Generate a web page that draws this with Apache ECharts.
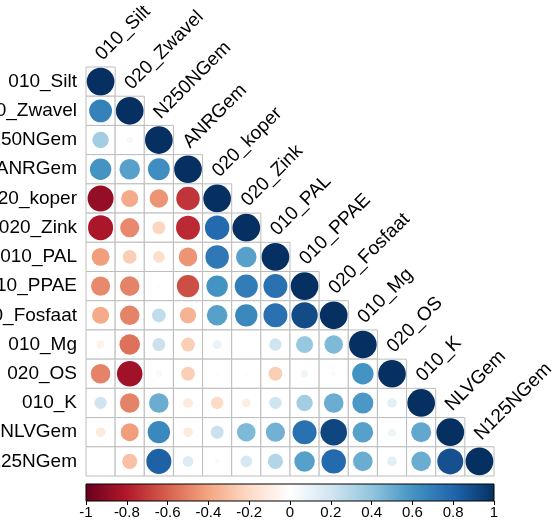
<!DOCTYPE html>
<html>
<head>
<meta charset="utf-8">
<script src="https://cdn.jsdelivr.net/npm/echarts@6/dist/echarts.min.js"></script>
<style>
  html, body { margin: 0; padding: 0; background: #fff; }
  #corrChart { width: 555px; height: 526px; }
</style>
</head>
<body>
<div id="corrChart"></div>
<script>
// variable names, same order for rows and columns
const varNames = ['010_Silt', '020_Zwavel', 'N250NGem', 'ANRGem', '020_koper', '020_Zink', '010_PAL',
  '010_PPAE', '020_Fosfaat', '010_Mg', '020_OS', '010_K', 'NLVGem', 'N125NGem']

// lower triangle of the correlation matrix
const rowSilt = [1]
const rowZwavel = [0.68, 1]
const rowN250 = [0.35, 0.05, 1]
const rowANR = [0.6, 0.55, 0.62, 1]
const rowKoper = [-0.88, -0.38, -0.45, -0.72, 1]
const rowZink = [-0.82, -0.48, -0.22, -0.75, 0.78, 1]
const rowPAL = [-0.42, -0.25, -0.18, -0.45, 0.72, 0.55, 1]
const rowPPAE = [-0.48, -0.5, 0.02, -0.65, 0.6, 0.7, 0.75, 1]
const rowFosfaat = [-0.38, -0.5, 0.25, -0.35, 0.55, 0.65, 0.75, 0.9, 1]
const rowMg = [-0.08, -0.55, 0.22, -0.25, 0.1, 0, 0.2, 0.38, 0.45, 1]
const rowOS = [-0.5, -0.85, 0.05, -0.25, 0.02, 0.02, -0.25, 0.07, 0.03, 0.6, 1]
const rowK = [0.2, -0.5, 0.5, -0.12, -0.2, -0.1, 0.2, 0.35, 0.5, 0.58, 0.12, 1]
const rowNLV = [-0.12, -0.42, 0.65, -0.12, 0.22, 0.45, 0.48, 0.75, 0.92, 0.55, 0.08, 0.52, 1]
const rowN125 = [0.02, -0.3, 0.82, 0.15, 0.03, 0.18, 0.3, 0.55, 0.78, 0.5, 0.12, 0.5, 0.88, 1]

const corrRows = [rowSilt, rowZwavel, rowN250, rowANR, rowKoper, rowZink, rowPAL, rowPPAE,
  rowFosfaat, rowMg, rowOS, rowK, rowNLV, rowN125]

// colour bar ticks
const barTicks = [-1, -0.8, -0.6, -0.4, -0.2, 0, 0.2, 0.4, 0.6, 0.8, 1]

// RdBu palette like corrplot
const rdbu = ['#67001F', '#B2182B', '#D6604D', '#F4A582', '#FDDBC7', '#FFFFFF',
  '#D1E5F0', '#92C5DE', '#4393C3', '#2166AC', '#053061']

const cellData = []
corrRows.forEach((row, i) => {
  row.forEach((v, j) => {
    cellData.push([j, i, v])
  })
})
const diagData = varNames.map((n, i) => [i, i])

const fontFam = 'Liberation Sans, Arial, sans-serif'
const chart = echarts.init(document.getElementById('corrChart'))

chart.setOption({
  animation: false,
  backgroundColor: '#fff',
  grid: [
    { left: 86, top: 67, width: 408, height: 409, containLabel: false, outerBoundsMode: 'none' },
    { left: 86, top: 484, width: 408, height: 17, containLabel: false, outerBoundsMode: 'none' }
  ],
  xAxis: [{
    gridIndex: 0,
    type: 'category',
    data: varNames,
    show: false
  }, {
    gridIndex: 1,
    type: 'value',
    min: -1,
    max: 1,
    interval: 0.2,
    axisLine: { show: false },
    axisTick: { show: true, length: 4, lineStyle: { color: '#000' } },
    splitLine: { show: false },
    axisLabel: {
      color: '#000',
      fontSize: 15,
      fontFamily: fontFam,
      margin: 4,
      formatter: v => {
        const t = barTicks.find(b => Math.abs(b - v) < 1e-6)
        return t === undefined ? '' : String(t)
      }
    }
  }],
  yAxis: [{
    gridIndex: 0,
    type: 'category',
    data: varNames,
    inverse: true,
    axisLine: { show: false },
    axisTick: { show: false },
    axisLabel: {
      color: '#000',
      fontSize: 19,
      fontFamily: fontFam,
      margin: 9
    }
  }, {
    gridIndex: 1,
    type: 'value',
    min: 0,
    max: 1,
    show: false
  }],
  visualMap: {
    show: false,
    type: 'continuous',
    seriesIndex: 0,
    dimension: 2,
    min: -1,
    max: 1,
    inRange: { color: rdbu }
  },
  series: [{
    // cells with circles
    type: 'custom',
    xAxisIndex: 0,
    yAxisIndex: 0,
    data: cellData,
    renderItem: (params, api) => {
      const p = api.coord([api.value(0), api.value(1)])
      const s = api.size([1, 1])
      const r = Math.sqrt(Math.abs(api.value(2))) * s[0] * 0.475
      return {
        type: 'group',
        children: [{
          type: 'rect',
          shape: { x: p[0] - s[0] / 2, y: p[1] - s[1] / 2, width: s[0], height: s[1] },
          style: { fill: '#fff', stroke: '#bdbdbd', lineWidth: 1 }
        }, {
          type: 'circle',
          shape: { cx: p[0], cy: p[1], r: r },
          style: { fill: api.visual('color') }
        }]
      }
    }
  }, {
    // rotated column labels on the diagonal
    type: 'custom',
    xAxisIndex: 0,
    yAxisIndex: 0,
    data: diagData,
    z: 5,
    renderItem: (params, api) => {
      const p = api.coord([api.value(0), api.value(1)])
      const s = api.size([1, 1])
      return {
        type: 'text',
        x: p[0] + 5,
        y: p[1] - s[1] / 2 - 3,
        rotation: Math.PI / 4,
        style: {
          text: varNames[params.dataIndex],
          fill: '#000',
          font: '19px ' + fontFam,
          align: 'left',
          verticalAlign: 'bottom'
        }
      }
    }
  }, {
    // colour bar
    type: 'custom',
    xAxisIndex: 1,
    yAxisIndex: 1,
    data: [[-1, 1]],
    renderItem: (params, api) => {
      const a = api.coord([api.value(0), 1])
      const b = api.coord([api.value(1), 0])
      return {
        type: 'rect',
        shape: { x: a[0], y: a[1], width: b[0] - a[0], height: b[1] - a[1] },
        style: {
          fill: new echarts.graphic.LinearGradient(0, 0, 1, 0,
            rdbu.map((c, k) => ({ offset: k / (rdbu.length - 1), color: c }))),
          stroke: '#000',
          lineWidth: 1
        }
      }
    }
  }]
})
</script>
</body>
</html>
